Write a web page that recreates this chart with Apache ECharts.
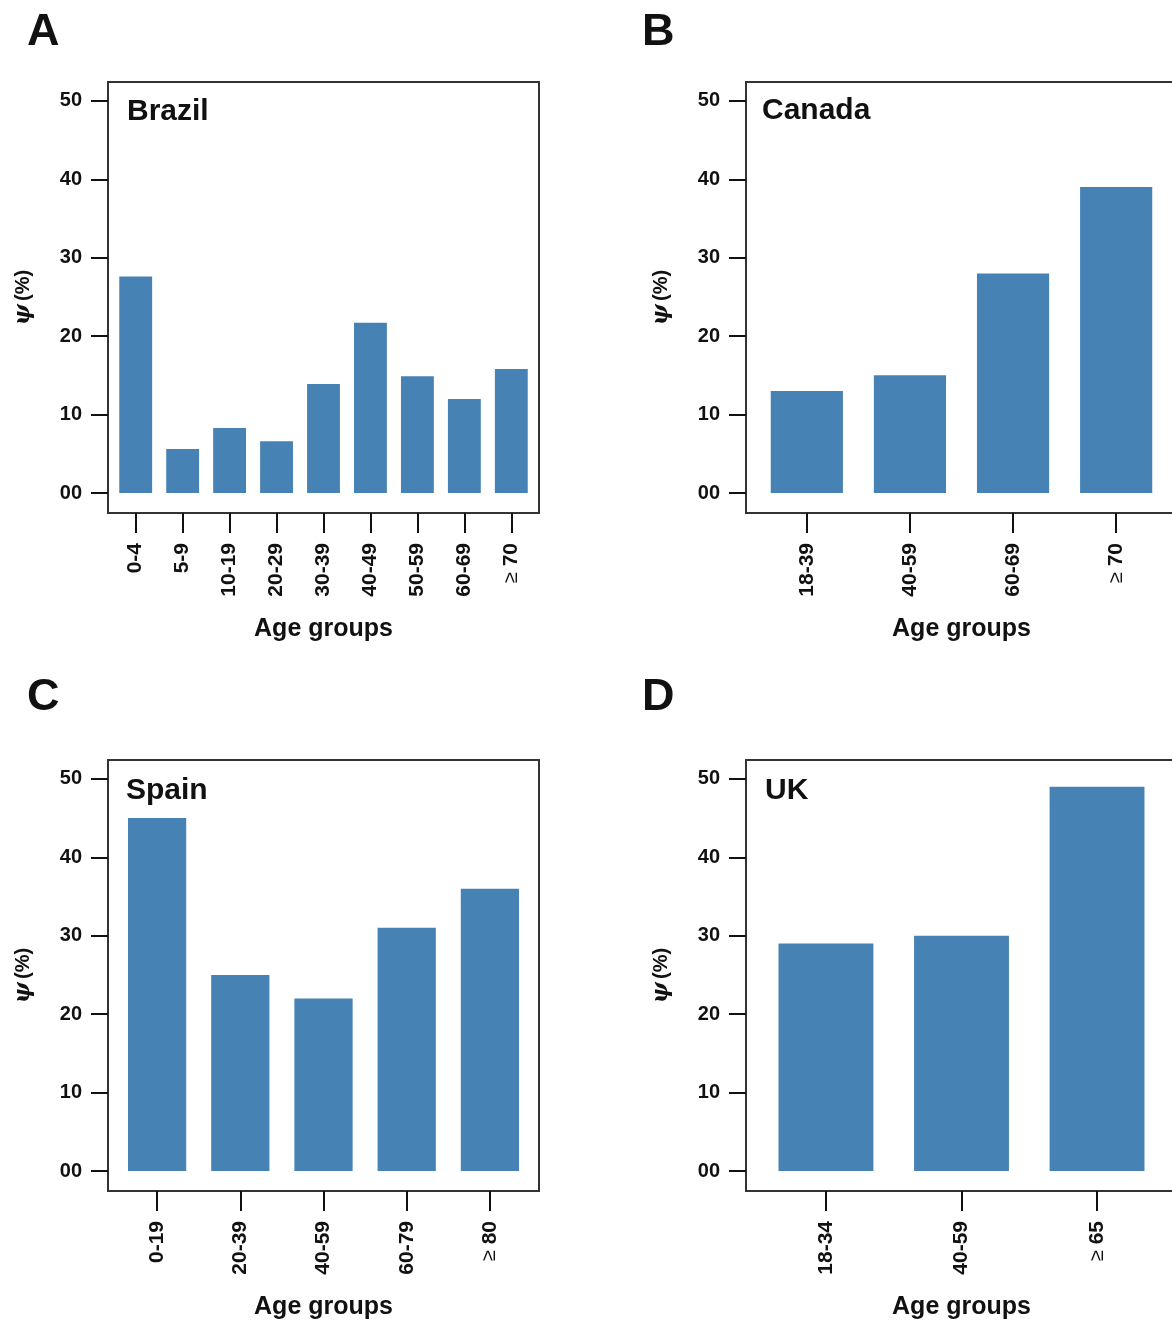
<!DOCTYPE html>
<html><head><meta charset="utf-8">
<script src="https://cdn.jsdelivr.net/npm/echarts@6/dist/echarts.min.js"></script>
<style>html,body{margin:0;padding:0;background:#fff}#c{width:1172px;height:1327px}</style>
</head><body><div id="c"></div>
<script>
// ---- data ----
const brazilAges = ['0-4','5-9','10-19','20-29','30-39','40-49','50-59','60-69','≥ 70'];
const brazilPsi  = [27.6, 5.6, 8.3, 6.6, 13.9, 21.7, 14.9, 12.0, 15.8];
const canadaAges = ['18-39','40-59','60-69','≥ 70'];
const canadaPsi  = [13, 15, 28, 39];
const spainAges  = ['0-19','20-39','40-59','60-79','≥ 80'];
const spainPsi   = [45, 25, 22, 31, 36];
const ukAges     = ['18-34','40-59','≥ 65'];
const ukPsi      = [29, 30, 49];
const yTickValues = [0, 10, 20, 30, 40, 50];
const yTickLabels = ['00', '10', '20', '30', '40', '50'];
const panelLetters = ['A', 'B', 'C', 'D'];
const countries = ['Brazil', 'Canada', 'Spain', 'UK'];
const xTitle = 'Age groups';
const yTitle = 'ψ (%)';

// ---- layout ----
const FONT = '"Liberation Sans", Arial, Helvetica, sans-serif';
const BAR = '#4682B4';
const INK = '#111';
const FRAME = '#333';
const Y_MIN = -2.55, Y_MAX = 52.4;   // frame extends slightly beyond 0..50
const X_PAD = 0.59;                   // frame extends beyond first/last bar centre
const panels = [
  {cats: brazilAges, vals: brazilPsi, frame: {l:108, t:82,  w:431, h:431}, letter: [27, 10],  name: [127, 97]},
  {cats: canadaAges, vals: canadaPsi, frame: {l:746, t:82,  w:431, h:431}, letter: [642, 10], name: [762, 96]},
  {cats: spainAges,  vals: spainPsi,  frame: {l:108, t:760, w:431, h:431}, letter: [27, 675], name: [126, 776]},
  {cats: ukAges,     vals: ukPsi,     frame: {l:746, t:760, w:431, h:431}, letter: [642, 675],name: [765, 776]}
];

const grid = [], xAxis = [], yAxis = [], series = [], title = [];
panels.forEach((p, i) => {
  const idx = p.cats.map((c, k) => k);
  grid.push({left: p.frame.l, top: p.frame.t, width: p.frame.w, height: p.frame.h,
             outerBoundsMode: 'none', containLabel: false,
             show: true, borderColor: FRAME, borderWidth: 2, backgroundColor: 'transparent'});
  xAxis.push({
    gridIndex: i, type: 'value', position: 'bottom', min: -X_PAD, max: p.cats.length - 1 + X_PAD,
    axisLine: {show: false, onZero: false}, splitLine: {show: false},
    axisTick: {show: true, customValues: idx, length: 20, lineStyle: {color: INK, width: 2}},
    axisLabel: {
      customValues: idx, showMinLabel: true, showMaxLabel: true,
      rotate: 90, margin: 30, color: INK, fontFamily: FONT, fontWeight: 'bold', fontSize: 21,
      formatter: v => {
        const s = p.cats[Math.round(v)];
        return s.startsWith('≥') ? '{g|≥} {b|' + s.slice(2) + '}' : s;
      },
      rich: {g: {fontFamily: FONT, fontWeight: 'normal', fontSize: 20, color: INK},
             b: {fontFamily: FONT, fontWeight: 'bold', fontSize: 21, color: INK}}
    },
    name: xTitle, nameLocation: 'middle', nameGap: 104,
    nameTextStyle: {fontFamily: FONT, fontWeight: 'bold', fontSize: 25, color: INK}
  });
  yAxis.push({
    gridIndex: i, type: 'value', position: 'left', min: Y_MIN, max: Y_MAX,
    axisLine: {show: false, onZero: false}, splitLine: {show: false},
    axisTick: {show: true, customValues: yTickValues, length: 17, lineStyle: {color: INK, width: 2}},
    axisLabel: {customValues: yTickValues, margin: 26, color: INK, fontFamily: FONT, fontWeight: 'bold', fontSize: 20,
      formatter: v => yTickLabels[yTickValues.indexOf(Math.round(v))]},
    name: '{p|ψ} {q|(%)}', nameLocation: 'middle', nameGap: 74, nameRotate: 90,
    nameTextStyle: {rich: {
      p: {fontFamily: '"DejaVu Serif", serif', fontStyle: 'italic', fontWeight: 'bold', fontSize: 22, color: INK},
      q: {fontFamily: FONT, fontWeight: 'bold', fontSize: 20, color: INK}}}
  });
  series.push({type: 'bar', xAxisIndex: i, yAxisIndex: i,
               data: p.vals.map((v, k) => [k, v]), barWidth: '70%',
               itemStyle: {color: BAR}, silent: true, animation: false});
  title.push({text: panelLetters[i], left: p.letter[0], top: p.letter[1], padding: 0,
              textStyle: {fontFamily: FONT, fontWeight: 'bold', fontSize: 45, color: INK}});
  title.push({text: countries[i], left: p.name[0], top: p.name[1], padding: 0,
              textStyle: {fontFamily: FONT, fontWeight: 'bold', fontSize: 30, color: INK}});
});

const chart = echarts.init(document.getElementById('c'), null, {renderer: 'canvas'});
chart.setOption({animation: false, backgroundColor: '#fff', title, grid, xAxis, yAxis, series});
</script>
</body></html>
